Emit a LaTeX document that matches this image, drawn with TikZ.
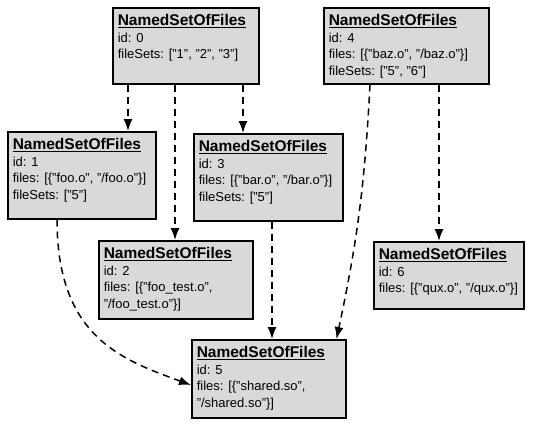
\documentclass[tikz,border=0pt]{standalone}
\usepackage{fontspec}
\setmainfont{Liberation Sans}
\usepackage{tikz}
\usetikzlibrary{arrows.meta, positioning}

\definecolor{boxgray}{RGB}{217,217,217}
\newcommand{\nsof}[3]{\parbox[t][#2][t]{#1}{{\fontsize{15.5}{17}\selectfont\bfseries\underline{NamedSetOfFiles}\par}#3}}

\tikzset{
  fileset/.style={draw, line width=1.5pt, fill=boxgray, anchor=north west, inner xsep=5pt, inner ysep=7pt, font=\fontsize{13}{16.5}\selectfont},
  dep/.style={line width=1.5pt, dash pattern=on 7pt off 5pt, -{Latex[length=12pt, width=9pt]}}
}

\begin{document}
\begin{tikzpicture}[x=1pt, y=-1pt]
  \useasboundingbox (0, 0) rectangle (539, 440);
  \node[fileset] (S0) at (112, 7) {\nsof{136pt}{62pt}{id: 0\\fileSets: ["1", "2", "3"]}};
  \node[fileset] (S4) at (323, 7) {\nsof{155pt}{62pt}{id: 4\\files: [\{"baz.o", "/baz.o"\}]\\fileSets: ["5", "6"]}};
  \node[fileset] (S1) at (7, 131) {\nsof{138pt}{73pt}{id: 1\\files: [\{"foo.o", "/foo.o"\}]\\fileSets: ["5"]}};
  \node[fileset] (S3) at (193, 133) {\nsof{139pt}{73pt}{id: 3\\files: [\{"bar.o", "/bar.o"\}]\\fileSets: ["5"]}};
  \node[fileset] (S2) at (98, 240) {\nsof{144pt}{64pt}{id: 2\\files: [\{"foo\_test.o",\\"/foo\_test.o"\}]}};
  \node[fileset] (S6) at (373, 241) {\nsof{140pt}{53pt}{id: 6\\files: [\{"qux.o", "/qux.o"\}]}};
  \node[fileset] (S5) at (191, 339) {\nsof{144pt}{64pt}{id: 5\\files: [\{"shared.so",\\"/shared.so"\}]}};

  \draw[dep] ([xshift=16pt]S0.south west) -- ([xshift=16pt]S0.south west |- S1.north);
  \draw[dep] ([xshift=63pt]S0.south west) -- ([xshift=63pt]S0.south west |- S2.north);
  \draw[dep] ([xshift=131pt]S0.south west) -- ([xshift=131pt]S0.south west |- S3.north);
  \draw[dep] ([xshift=116pt]S4.south west) -- ([xshift=116pt]S4.south west |- S6.north);
  \draw[dep] ([xshift=47pt]S4.south west) to[out=-93, in=78] ([xshift=-10pt]S5.north east);
  \draw[dep] ([xshift=79pt]S3.south west) -- ([xshift=79pt]S3.south west |- S5.north);
  \draw[dep] ([xshift=50pt]S1.south west) to[out=-90, in=160, out looseness=1.4, in looseness=0.9] ([yshift=-46pt]S5.north west);
\end{tikzpicture}
\end{document}
